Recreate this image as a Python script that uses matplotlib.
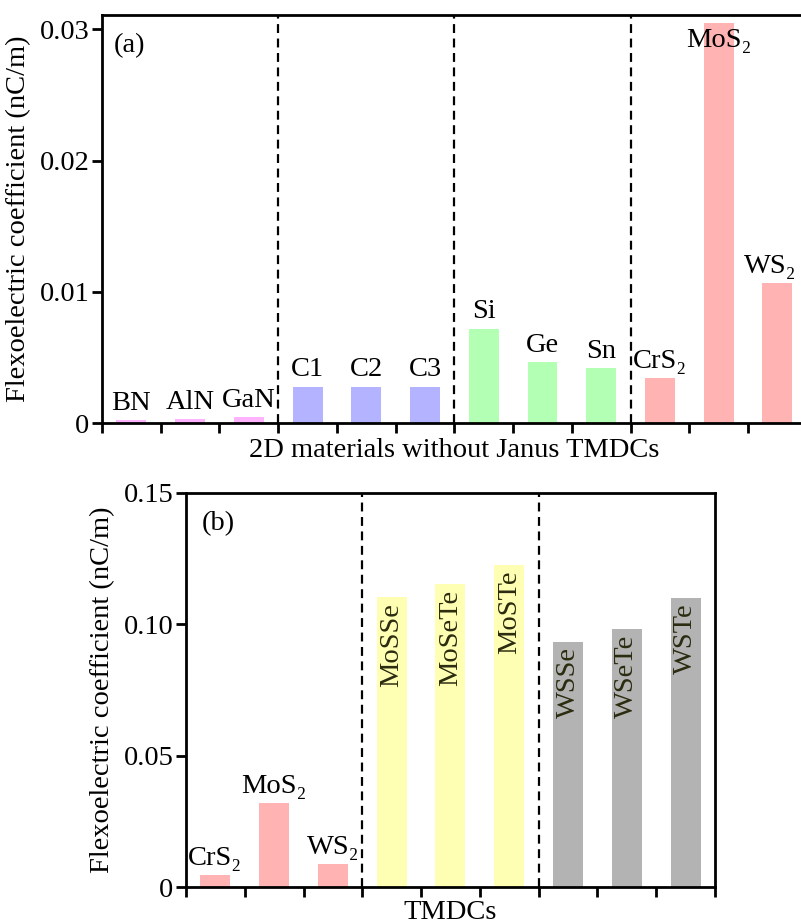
import matplotlib
matplotlib.use("Agg")
import matplotlib.pyplot as plt
import numpy as np

plt.rcParams["font.family"] = ["Liberation Serif", "DejaVu Serif"]
plt.rcParams["font.size"] = 20.5

# (a) 2D materials without Janus TMDCs
names_a = ["BN", "AlN", "GaN", "C1", "C2", "C3", "Si", "Ge", "Sn",
           "CrS\u2082", "MoS\u2082", "WS\u2082"]
values_a = [0.00025, 0.00033, 0.00046, 0.00277, 0.00277, 0.00277,
            0.0072, 0.00463, 0.00418, 0.00341, 0.0305, 0.01066]
colors_a = ["#ffb3ff"] * 3 + ["#b3b3ff"] * 3 + ["#b3ffb3"] * 3 + ["#ffb3b3"] * 3

# (b) TMDCs
names_b = ["CrS\u2082", "MoS\u2082", "WS\u2082", "MoSSe", "MoSeTe", "MoSTe",
           "WSSe", "WSeTe", "WSTe"]
values_b = [0.0046, 0.0321, 0.0088, 0.1103, 0.1154, 0.1225,
            0.0933, 0.0981, 0.1099]
colors_b = ["#ffb3b3"] * 3 + ["#ffffb3"] * 3 + ["#b3b3b3"] * 3
rotated_b = [False] * 3 + [True] * 6

fig = plt.figure(figsize=(8.01, 9.24), dpi=100)
ax1 = fig.add_axes([0.1273, 0.5422, 0.880, 0.4416])
ax2 = fig.add_axes([0.2322, 0.040, 0.6604, 0.4265])


def style(ax, n, ymax, yticks, ylabels, xlabel, xpad):
    ax.set_xlim(-0.5, n - 0.5)
    ax.set_ylim(0, ymax)
    ax.set_xticks(np.arange(n + 1) - 0.5)
    ax.set_xticklabels([])
    ax.set_yticks(yticks)
    ax.set_yticklabels(ylabels)
    ax.tick_params(direction="out", length=7, width=2, pad=2)
    for s in ax.spines.values():
        s.set_linewidth(2)
    ax.set_xlabel(xlabel, labelpad=xpad)
    ax.set_ylabel("Flexoelectric coefficient (nC/m)", labelpad=6)
    for b in range(3, n, 3):
        ax.axvline(b - 0.5, color="black", ls=(0, (4, 2.5)), lw=1.6)


x_a = np.arange(len(names_a))
ax1.bar(x_a, values_a, width=0.51, color=colors_a)
style(ax1, len(names_a), 0.0311, [0, 0.01, 0.02, 0.03],
      ["0", "0.01", "0.02", "0.03"], "2D materials without Janus TMDCs", 2)
for x, v, t in zip(x_a, values_a, names_a):
    # last label sits against the figure edge, nudge it left a little
    dx = -5 if x == len(names_a) - 1 else 0
    if v > 0.028:
        ax1.annotate(t, (x, v), xytext=(dx, -4), textcoords="offset points",
                     ha="center", va="top")
    else:
        ax1.annotate(t, (x, v), xytext=(dx, 3), textcoords="offset points",
                     ha="center", va="bottom")
ax1.text(0.017, 0.955, "(a)", transform=ax1.transAxes, ha="left", va="top")

x_b = np.arange(len(names_b))
ax2.bar(x_b, values_b, width=0.51, color=colors_b)
style(ax2, len(names_b), 0.15, [0, 0.05, 0.10, 0.15],
      ["0", "0.05", "0.10", "0.15"], "TMDCs", 0)
for x, v, t, r in zip(x_b, values_b, names_b, rotated_b):
    if r:
        ax2.annotate(t, (x, v), xytext=(0, -4), textcoords="offset points",
                     ha="center", va="top", rotation=90, color="#2b2b10")
    else:
        ax2.annotate(t, (x, v), xytext=(0, 3), textcoords="offset points",
                     ha="center", va="bottom")
ax2.text(0.03, 0.955, "(b)", transform=ax2.transAxes, ha="left", va="top")

fig.savefig("out.png", dpi=100)
